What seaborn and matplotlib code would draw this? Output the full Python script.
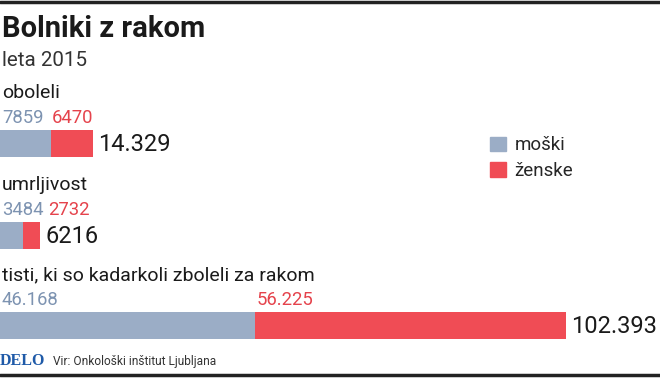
import matplotlib
matplotlib.use("Agg")
import matplotlib.pyplot as plt
import matplotlib.patches as mpatches
import seaborn as sns
import pandas as pd

# Data
categories = ["oboleli", "umrljivost", "tisti, ki so kadarkoli zboleli za rakom"]
moski = [7859, 3484, 46168]
zenske = [6470, 2732, 56225]
total_labels = ["14.329", "6216", "102.393"]
moski_labels = ["7859", "3484", "46.168"]
zenske_labels = ["6470", "2732", "56.225"]

BLUE = "#9badc6"
RED = "#f04c55"
BLUE_TXT = "#7d93b1"
RED_TXT = "#e5434c"
DARK = "#1a1a1a"

sns.set_theme(style="white")
plt.rcParams["font.family"] = ["Roboto", "DejaVu Sans"]

W, H = 660, 378
fig = plt.figure(figsize=(W / 100, H / 100), dpi=100)


def fy(p):
    return 1 - p / H


def fx(p):
    return p / W


# frame lines top / bottom
fig.add_artist(plt.Line2D([0, 1], [fy(1.5), fy(1.5)], color="#222222", lw=2.5))
fig.add_artist(plt.Line2D([0, 1], [fy(375), fy(375)], color="#222222", lw=2.5))

fig.text(fx(2), fy(37), "Bolniki z rakom", fontsize=21, fontweight="bold",
         color=DARK, va="baseline")
fig.text(fx(2), fy(66), "leta 2015", fontsize=14.8, color="#333333", va="baseline")

# rows: bar top in px; the original graphic shrinks the last row's scale
bar_tops = [130, 222, 312]
bar_h = 27
xmax = [102170, 102170, 119400]

for i in range(3):
    top = bar_tops[i]
    ax = fig.add_axes([0, fy(top + bar_h), 1, bar_h / H])
    df = pd.DataFrame({"cat": [categories[i]], "tot": [moski[i] + zenske[i]],
                       "m": [moski[i]]})
    sns.barplot(data=df, x="tot", y="cat", orient="h", color=RED, width=1,
                saturation=1, linewidth=0, edgecolor="none", ax=ax)
    sns.barplot(data=df, x="m", y="cat", orient="h", color=BLUE, width=1,
                saturation=1, linewidth=0, edgecolor="none", ax=ax)
    ax.set_xlim(0, xmax[i])
    ax.set_ylim(0.5, -0.5)
    ax.axis("off")

    tot = moski[i] + zenske[i]
    ax.annotate(total_labels[i], xy=(tot, 0), xytext=(4, -0.5),
                textcoords="offset points", va="center", ha="left",
                fontsize=17, color=DARK)
    # category label
    fig.text(fx(2), fy(top - 32), categories[i], fontsize=14, color=DARK,
             va="baseline")
    # value labels
    tm = fig.text(fx(2), fy(top - 7), moski_labels[i], fontsize=13.3,
                  color=BLUE_TXT, va="baseline", ha="left")
    fig.canvas.draw()
    ext = tm.get_window_extent()
    bar_end = ax.transData.transform((moski[i], 0))[0]
    xstart = max(bar_end + 1, ext.x1 + 5)
    fig.text(xstart / W, fy(top - 7), zenske_labels[i], fontsize=13.3,
             color=RED_TXT, va="baseline", ha="left")

# legend
handles = [mpatches.Patch(color=BLUE, label="moški"),
           mpatches.Patch(color=RED, label="ženske")]
fig.legend(handles=handles, loc="upper left", bbox_to_anchor=(fx(481), fy(127)),
           frameon=False, fontsize=13.5, handlelength=0.83, handleheight=0.83,
           handletextpad=0.45, labelspacing=0.42, borderpad=0)

# footer
fig.text(fx(0), fy(365), "DELO", fontsize=11.5, fontweight="bold",
         family="Liberation Serif", color="#1f5aa8", va="baseline")
fig.text(fx(53), fy(365), "Vir: Onkološki inštitut Ljubljana", fontsize=8.6,
         color="#333333", va="baseline")

fig.savefig("out.png", dpi=100)
